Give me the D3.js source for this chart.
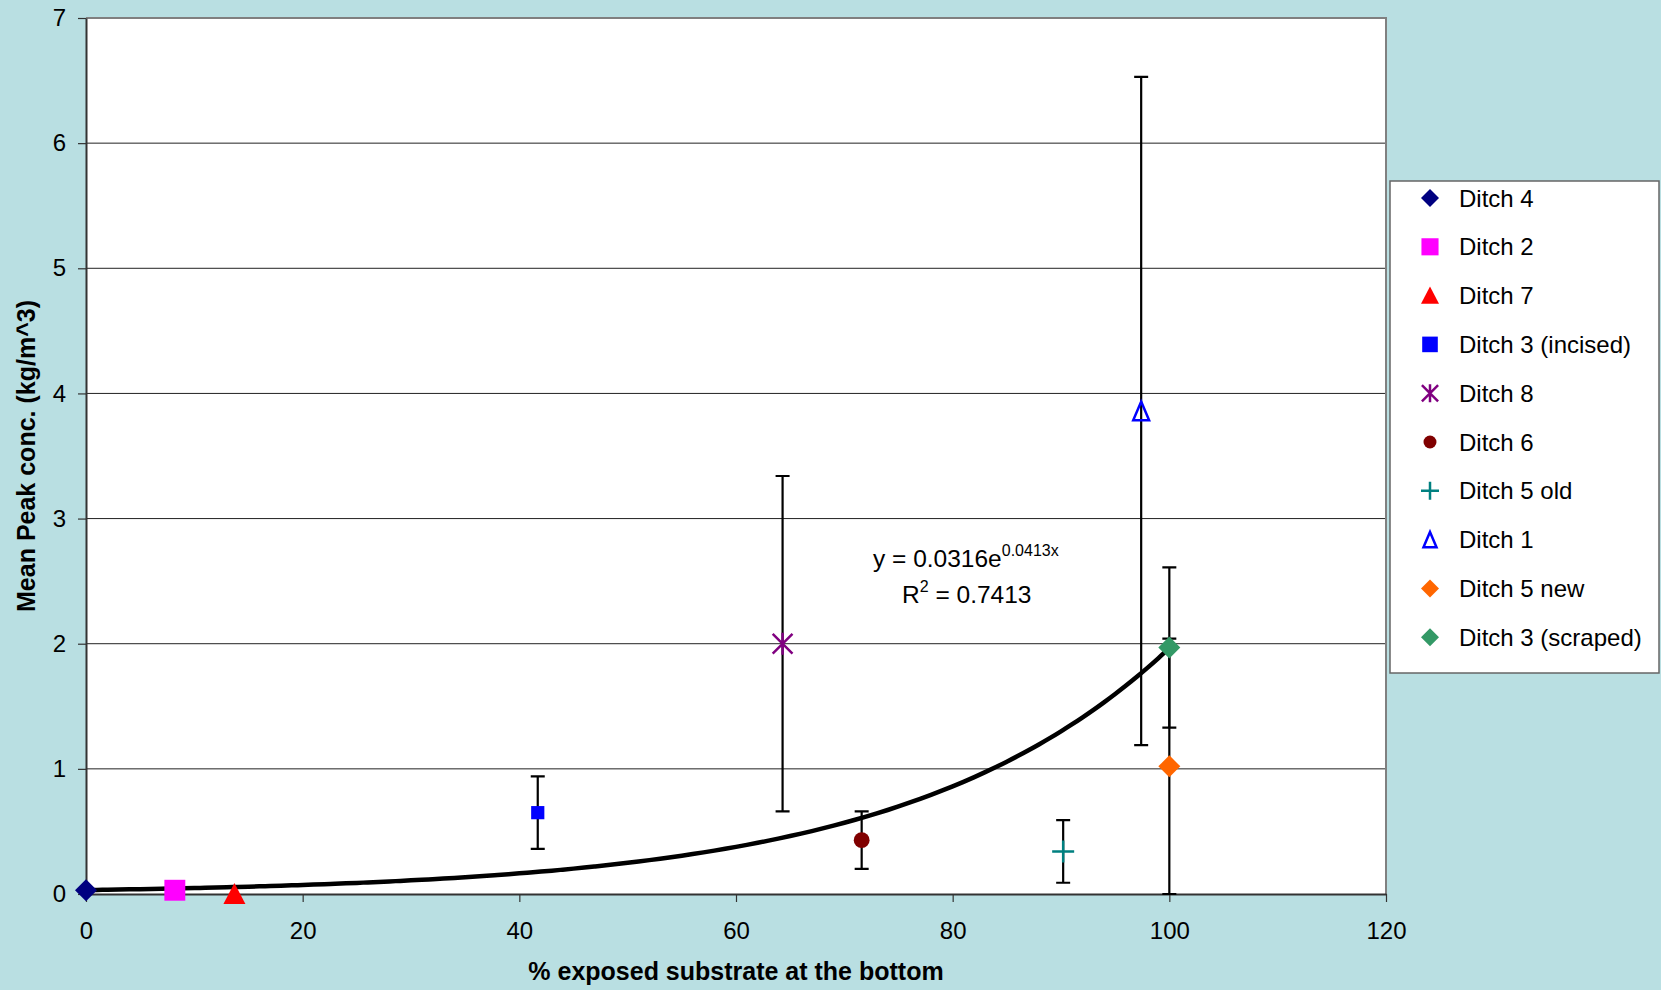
<!DOCTYPE html>
<html>
<head>
<meta charset="utf-8">
<script src="https://cdn.jsdelivr.net/npm/d3@7"></script>
<style>
  body { margin: 0; background: #b9dfe2; }
  svg { display: block; font-family: "Liberation Sans", Arial, sans-serif; }
</style>
</head>
<body>
<svg id="chart" width="1661" height="990"></svg>
<script>
// ====== DATA ======
const seriesNames = ['Ditch 4', 'Ditch 2', 'Ditch 7', 'Ditch 3 (incised)', 'Ditch 8',
    'Ditch 6', 'Ditch 5 old', 'Ditch 1', 'Ditch 5 new', 'Ditch 3 (scraped)'];
const xValues = [0, 8.2, 13.7, 41.7, 64.3, 71.6, 90.2, 97.4, 100, 100];
const yValues = [0.03, 0.03, 0.0, 0.65, 2.0, 0.43, 0.34, 3.86, 1.02, 1.97];
const errValues = [null, null, null, 0.29, 1.34, 0.23, 0.25, 2.67, 1.02, 0.64];
const markerTypes = ['diamond', 'square', 'triangle', 'smallSquare', 'star',
    'circle', 'plus', 'openTriangle', 'diamond', 'diamond'];
const markerColors = ['#000080', '#ff00ff', '#ff0000', '#0000ff', '#800080',
    '#800000', '#008080', '#0000ff', '#ff6600', '#339966'];
const xTicks = [0, 20, 40, 60, 80, 100, 120];
const yTicks = [0, 1, 2, 3, 4, 5, 6, 7];
// trendline from the chart's own label: y = 0.0316 e^(0.0413x)
const trendA = 0.0316, trendB = 0.0413;

// ====== LAYOUT ======
const svg = d3.select('#chart');
const plot = { left: 86, top: 18, right: 1386, bottom: 894 };

const x = d3.scaleLinear().domain([0, 120]).range([plot.left, plot.right]);
const y = d3.scaleLinear().domain([0, 7]).range([plot.bottom, plot.top]);

// plot background
svg.append('rect')
    .attr('x', plot.left).attr('y', plot.top)
    .attr('width', plot.right - plot.left).attr('height', plot.bottom - plot.top)
    .attr('fill', '#fff');

// gridlines
svg.append('g')
    .selectAll('line')
    .data(yTicks.slice(1, -1))
    .enter().append('line')
    .attr('x1', plot.left).attr('x2', plot.right)
    .attr('y1', d => y(d)).attr('y2', d => y(d))
    .attr('stroke', '#222').attr('stroke-width', 1);

// top / right border
svg.append('path')
    .attr('d', `M${plot.left},${plot.top}H${plot.right}V${plot.bottom}`)
    .attr('fill', 'none').attr('stroke', '#808080').attr('stroke-width', 2);

// axes
const xAxis = svg.append('g')
    .attr('transform', `translate(0,${plot.bottom})`)
    .call(d3.axisBottom(x).tickValues(xTicks).tickFormat(d3.format('d'))
        .tickSize(8).tickPadding(20).tickSizeOuter(0));
const yAxis = svg.append('g')
    .attr('transform', `translate(${plot.left},0)`)
    .call(d3.axisLeft(y).tickValues(yTicks).tickFormat(d3.format('d'))
        .tickSize(8).tickPadding(12).tickSizeOuter(0));
[xAxis, yAxis].forEach(a => {
    a.select('.domain').attr('stroke', '#333').attr('stroke-width', 2);
    a.selectAll('.tick line').attr('stroke', '#333').attr('stroke-width', 1.2);
    a.selectAll('.tick text').attr('font-size', 24).attr('fill', '#000')
        .attr('font-family', '"Liberation Sans", Arial, sans-serif');
});

// axis titles
svg.append('text')
    .attr('x', (plot.left + plot.right) / 2).attr('y', 980)
    .attr('text-anchor', 'middle').attr('font-size', 25).attr('font-weight', 'bold')
    .text('% exposed substrate at the bottom');
svg.append('text')
    .attr('transform', `translate(35,${(plot.top + plot.bottom) / 2}) rotate(-90)`)
    .attr('text-anchor', 'middle').attr('font-size', 25).attr('font-weight', 'bold')
    .text('Mean Peak conc. (kg/m^3)');

// ====== MARKERS ======
function drawMarker(g, type, color, s) {
    // s = overall marker size in px
    const h = s / 2;
    if (type === 'diamond') {
        g.append('path').attr('d', `M0,${-h}L${h},0L0,${h}L${-h},0Z`).attr('fill', color);
    } else if (type === 'square') {
        g.append('rect').attr('x', -h * 0.95).attr('y', -h * 0.95)
            .attr('width', s * 0.95).attr('height', s * 0.95).attr('fill', color);
    } else if (type === 'smallSquare') {
        g.append('rect').attr('x', -h * 0.6).attr('y', -h * 0.6)
            .attr('width', s * 0.6).attr('height', s * 0.6).attr('fill', color);
    } else if (type === 'triangle') {
        g.append('path').attr('d', `M0,${-h}L${h},${h * 0.9}L${-h},${h * 0.9}Z`).attr('fill', color);
    } else if (type === 'openTriangle') {
        const r = h * 0.85;
        g.append('path').attr('d', `M0,${-r}L${r * 0.85},${r}L${-r * 0.85},${r}Z`)
            .attr('fill', 'none').attr('stroke', color).attr('stroke-width', 2.5);
    } else if (type === 'circle') {
        g.append('circle').attr('r', h * 0.72).attr('fill', color);
    } else if (type === 'star') {
        const r = h;
        g.append('path').attr('d', `M${-r * 0.9},${-r * 0.9}L${r * 0.9},${r * 0.9}M${r * 0.9},${-r * 0.9}L${-r * 0.9},${r * 0.9}M0,${-r}V${r}`)
            .attr('stroke', color).attr('stroke-width', 2.5).attr('fill', 'none');
    } else if (type === 'plus') {
        g.append('path').attr('d', `M${-h},0H${h}M0,${-h}V${h}`)
            .attr('stroke', color).attr('stroke-width', 2.5).attr('fill', 'none');
    }
}

// error bars
const capW = 7;
const errG = svg.append('g');
seriesNames.forEach((name, i) => {
    const e = errValues[i];
    if (e == null) return;
    const cx = x(xValues[i]);
    const y1 = y(yValues[i] + e), y2 = y(Math.max(0, yValues[i] - e));
    errG.append('path')
        .attr('d', `M${cx},${y1}V${y2}M${cx - capW},${y1}H${cx + capW}M${cx - capW},${y2}H${cx + capW}`)
        .attr('stroke', '#000').attr('stroke-width', 2.2).attr('fill', 'none');
});

// trendline
const trendXs = d3.range(0, 100.01, 1);
svg.append('path')
    .datum(trendXs)
    .attr('d', d3.line().x(d => x(d)).y(d => y(trendA * Math.exp(trendB * d))).curve(d3.curveMonotoneX))
    .attr('fill', 'none').attr('stroke', '#000').attr('stroke-width', 4.5);

// points (drawn above trendline)
seriesNames.forEach((name, i) => {
    const g = svg.append('g').attr('transform', `translate(${x(xValues[i])},${y(yValues[i])})`);
    drawMarker(g, markerTypes[i], markerColors[i], 22);
});

// trendline label
const eq = svg.append('text').attr('x', 873).attr('y', 567).attr('font-size', 24.5);
eq.append('tspan').text('y = 0.0316e');
eq.append('tspan').attr('dy', -11).attr('font-size', 16).text('0.0413x');
const r2 = svg.append('text').attr('x', 902).attr('y', 603).attr('font-size', 24.5);
r2.append('tspan').text('R');
r2.append('tspan').attr('dy', -11).attr('font-size', 16).text('2');
r2.append('tspan').attr('dy', 11).text(' = 0.7413');

// ====== LEGEND ======
const legend = svg.append('g');
legend.append('rect')
    .attr('x', 1390).attr('y', 181).attr('width', 269).attr('height', 492)
    .attr('fill', '#fff').attr('stroke', '#666').attr('stroke-width', 1.5);
seriesNames.forEach((name, i) => {
    const ly = 198 + i * 48.8;
    const g = legend.append('g').attr('transform', `translate(1430,${ly})`);
    drawMarker(g, markerTypes[i], markerColors[i], markerTypes[i] === 'smallSquare' ? 26 : 18);
    legend.append('text')
        .attr('x', 1459).attr('y', ly).attr('dy', '0.36em')
        .attr('font-size', 24).text(name);
});
</script>
</body>
</html>
